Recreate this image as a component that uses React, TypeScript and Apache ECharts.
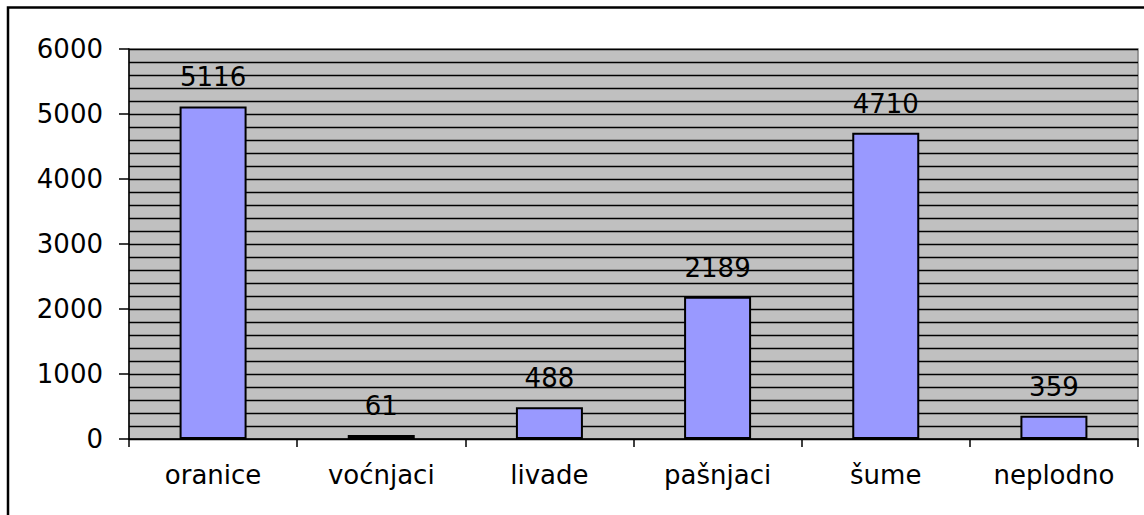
import React, { useEffect, useRef } from "react";
import * as echarts from "echarts";

const categories = ["oranice", "voćnjaci", "livade", "pašnjaci", "šume", "neplodno"];
const values = [5116, 61, 488, 2189, 4710, 359];
const yTicks = [0, 1000, 2000, 3000, 4000, 5000, 6000];

const FONT = "DejaVu Sans";

export default function App() {
  const ref = useRef<HTMLDivElement>(null);
  useEffect(() => {
    if (!ref.current) return;
    const chart = echarts.init(ref.current, null, { renderer: "svg" });
    chart.setOption({
      animation: false,
      backgroundColor: "#ffffff",
      graphic: [
        {
          type: "rect",
          shape: { x: 8, y: 7.5, width: 1150, height: 520 },
          style: { fill: "none", stroke: "#000", lineWidth: 2.5 },
          silent: true,
        },
      ],
      grid: {
        left: 129,
        top: 49,
        right: 6,
        bottom: 76,
        show: true,
        backgroundColor: "#c0c0c0",
        borderColor: "#808080",
        borderWidth: 1.5,
      },
      xAxis: {
        type: "category",
        data: categories,
        axisLine: { show: true, lineStyle: { color: "#000", width: 1.5 } },
        axisTick: { show: true, alignWithLabel: false, length: 8, lineStyle: { color: "#000", width: 1.5 } },
        axisLabel: { margin: 23, fontFamily: FONT, fontSize: 26, color: "#000" },
        splitLine: { show: false },
      },
      yAxis: {
        type: "value",
        min: yTicks[0],
        max: yTicks[yTicks.length - 1],
        interval: 1000,
        axisLine: { show: true, lineStyle: { color: "#000", width: 1.5 } },
        axisTick: { show: true, length: 10, lineStyle: { color: "#000", width: 1.5 } },
        axisLabel: {
          margin: 26,
          fontFamily: FONT,
          fontSize: 26,
          color: "#000",
          formatter: (v: number) => String(v),
        },
        splitLine: { show: true, lineStyle: { color: "#000", width: 1.3 } },
        minorTick: { show: false, splitNumber: 5 },
        minorSplitLine: { show: true, lineStyle: { color: "#000", width: 1.3 } },
      },
      series: [
        {
          type: "bar",
          data: values,
          barWidth: 67,
          itemStyle: { color: "#9999ff", borderColor: "#000", borderWidth: 2 },
          label: {
            show: true,
            position: "top",
            distance: 16,
            fontFamily: FONT,
            fontSize: 26,
            color: "#000",
          },
        },
      ],
    });
    return () => chart.dispose();
  }, []);
  return (
    <div
      ref={ref}
      style={{ position: "fixed", left: 0, top: 0, width: 1144, height: 515, background: "#fff" }}
    />
  );
}
